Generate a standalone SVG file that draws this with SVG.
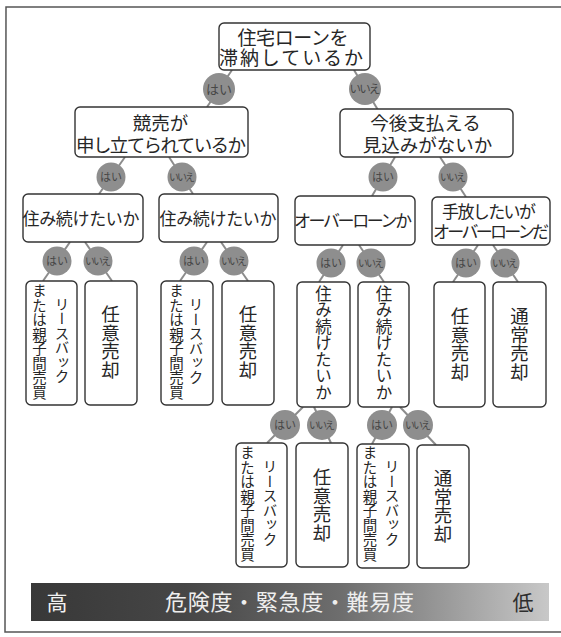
<svg xmlns="http://www.w3.org/2000/svg" width="561" height="637" viewBox="0 0 561 637">
<defs>
<linearGradient id="barg" x1="0" y1="0" x2="1" y2="0">
<stop offset="0" stop-color="#383838"/>
<stop offset="0.3" stop-color="#464646"/>
<stop offset="0.6" stop-color="#6e6e6e"/>
<stop offset="0.8" stop-color="#9a9a9a"/>
<stop offset="1" stop-color="#c8c8c8"/>
</linearGradient>
<style>
.box{fill:#fff;stroke:#333;stroke-width:1.4}
.t{font-family:"Noto Sans CJK JP","Noto Sans CJK SC",sans-serif;fill:#262626;text-anchor:middle}
.v{font-family:"Noto Sans CJK JP","Noto Sans CJK SC",sans-serif;fill:#262626;text-anchor:middle;writing-mode:vertical-rl}
.c{fill:#8e8e8e}
.cl{font-family:"Noto Sans CJK JP","Noto Sans CJK SC",sans-serif;fill:#474747;text-anchor:middle}
.ln{stroke:#8c8c8c;stroke-width:2;fill:none}
</style>
</defs>
<rect width="561" height="637" fill="#fff"/>
<path d="M562 7 L6 7 L5 632 L562 632" fill="none" stroke="#555" stroke-width="1.5"/>

<g id="connectors">
<line class="ln" x1="232" y1="70" x2="207" y2="107"/>
<line class="ln" x1="354" y1="70" x2="378" y2="110"/>
<line class="ln" x1="125" y1="157" x2="99" y2="194"/>
<line class="ln" x1="169" y1="157" x2="193" y2="194"/>
<line class="ln" x1="395" y1="157" x2="372" y2="196"/>
<line class="ln" x1="440" y1="157" x2="466" y2="197"/>
<line class="ln" x1="70" y1="242" x2="43" y2="281"/>
<line class="ln" x1="85" y1="242" x2="112" y2="281"/>
<line class="ln" x1="207" y1="242" x2="180" y2="281"/>
<line class="ln" x1="221" y1="242" x2="248" y2="281"/>
<line class="ln" x1="343" y1="245" x2="319" y2="282"/>
<line class="ln" x1="359" y1="245" x2="384" y2="282"/>
<line class="ln" x1="478" y1="245" x2="453" y2="282"/>
<line class="ln" x1="493" y1="245" x2="518" y2="282"/>
<line class="ln" x1="303" y1="407" x2="267" y2="443"/>
<line class="ln" x1="314" y1="407" x2="331" y2="443"/>
<line class="ln" x1="392" y1="407" x2="372" y2="444"/>
<line class="ln" x1="400" y1="407" x2="436" y2="445"/>
<circle class="c" cx="219" cy="89" r="16"/><text class="cl" x="219" y="93.5" font-size="13">はい</text>
<circle class="c" cx="365" cy="89" r="16"/><text class="cl" x="365" y="93" font-size="11.5" textLength="31">いいえ</text>
<circle class="c" cx="111" cy="177" r="14.5"/><text class="cl" x="111" y="181" font-size="11">はい</text>
<circle class="c" cx="182" cy="177" r="14.5"/><text class="cl" x="182" y="181" font-size="10" textLength="26">いいえ</text>
<circle class="c" cx="383" cy="177" r="14.5"/><text class="cl" x="383" y="181" font-size="11">はい</text>
<circle class="c" cx="453" cy="177" r="14.5"/><text class="cl" x="453" y="181" font-size="10" textLength="26">いいえ</text>
<circle class="c" cx="57" cy="261" r="14.5"/><text class="cl" x="57" y="265" font-size="11">はい</text>
<circle class="c" cx="98" cy="261" r="14.5"/><text class="cl" x="98" y="265" font-size="10" textLength="26">いいえ</text>
<circle class="c" cx="194" cy="261" r="14.5"/><text class="cl" x="194" y="265" font-size="11">はい</text>
<circle class="c" cx="234" cy="261" r="14.5"/><text class="cl" x="234" y="265" font-size="10" textLength="26">いいえ</text>
<circle class="c" cx="331" cy="263" r="14.5"/><text class="cl" x="331" y="267" font-size="11">はい</text>
<circle class="c" cx="371" cy="263" r="14.5"/><text class="cl" x="371" y="267" font-size="10" textLength="26">いいえ</text>
<circle class="c" cx="466" cy="263" r="14.5"/><text class="cl" x="466" y="267" font-size="11">はい</text>
<circle class="c" cx="505" cy="263" r="14.5"/><text class="cl" x="505" y="267" font-size="10" textLength="26">いいえ</text>
<circle class="c" cx="285" cy="425" r="15"/><text class="cl" x="285" y="429" font-size="11">はい</text>
<circle class="c" cx="322" cy="425" r="15"/><text class="cl" x="322" y="429" font-size="10" textLength="26">いいえ</text>
<circle class="c" cx="382" cy="425" r="15"/><text class="cl" x="382" y="429" font-size="11">はい</text>
<circle class="c" cx="418" cy="425" r="15"/><text class="cl" x="418" y="429" font-size="10" textLength="26">いいえ</text>
</g>

<g id="root"><rect class="box" x="219" y="23" width="151" height="47" rx="5"/>
<text class="t" x="293" y="44.5" font-size="19" textLength="111">住宅ローンを</text>
<text class="t" x="291" y="65" font-size="19" textLength="144">滞納しているか</text></g>

<g id="keibai"><rect class="box" x="75" y="107" width="173" height="50" rx="5"/>
<text class="t" x="160.5" y="130" font-size="18.5">競売が</text>
<text class="t" x="161" y="151.5" font-size="18.5" textLength="170">申し立てられているか</text></g>

<g id="kongo"><rect class="box" x="340" y="109" width="173" height="48" rx="5"/>
<text class="t" x="425.5" y="130" font-size="18.5">今後支払える</text>
<text class="t" x="427.5" y="151.5" font-size="18.5">見込みがないか</text></g>

<g id="sumi1"><rect class="box" x="23" y="194" width="120" height="48" rx="5"/>
<text class="t" x="81" y="225" font-size="17" textLength="117">住み続けたいか</text></g>

<g id="sumi2"><rect class="box" x="159" y="194" width="119" height="48" rx="5"/>
<text class="t" x="218" y="225" font-size="17" textLength="117">住み続けたいか</text></g>

<g id="overloan"><rect class="box" x="295" y="196" width="120" height="49" rx="5"/>
<text class="t" x="353" y="226.5" font-size="17" textLength="118">オーバーローンか</text></g>

<g id="tebanashi"><rect class="box" x="432" y="197" width="118" height="48" rx="5"/>
<text class="t" x="489" y="217.5" font-size="17" textLength="94">手放したいが</text>
<text class="t" x="491" y="238" font-size="17" textLength="116">オーバーローンだ</text></g>

<g id="leaf1"><rect class="box" x="26" y="281" width="51" height="124" rx="5"/>
<text class="v" x="62" y="340.5" font-size="14.5">リースバック</text>
<text class="v" x="39.5" y="341.5" font-size="14.5">または親子間売買</text></g>

<g id="leaf2"><rect class="box" x="85" y="281" width="52" height="124" rx="5"/>
<text class="v" x="110.5" y="342" font-size="18.5">任意売却</text></g>

<g id="leaf3"><rect class="box" x="161" y="281" width="52" height="124" rx="5"/>
<text class="v" x="196" y="341" font-size="14.5">リースバック</text>
<text class="v" x="176.5" y="341.5" font-size="14.5">または親子間売買</text></g>

<g id="leaf4"><rect class="box" x="222" y="281" width="52" height="124" rx="5"/>
<text class="v" x="248" y="342" font-size="18.5">任意売却</text></g>

<g id="leaf5"><rect class="box" x="297" y="282" width="53" height="125" rx="5"/>
<text class="v" x="323.5" y="343" font-size="16.5">住み続けたいか</text></g>

<g id="leaf6"><rect class="box" x="358" y="282" width="51" height="125" rx="5"/>
<text class="v" x="384" y="343" font-size="16.5">住み続けたいか</text></g>

<g id="leaf7"><rect class="box" x="434" y="282" width="51" height="125" rx="5"/>
<text class="v" x="460" y="344" font-size="18.5">任意売却</text></g>

<g id="leaf8"><rect class="box" x="493" y="282" width="53" height="125" rx="5"/>
<text class="v" x="519.5" y="344" font-size="18.5">通常売却</text></g>

<g id="leaf9"><rect class="box" x="236" y="443" width="51" height="124" rx="5"/>
<text class="v" x="270" y="503" font-size="14.5">リースバック</text>
<text class="v" x="247.5" y="503.5" font-size="14.5">または親子間売買</text></g>

<g id="leaf10"><rect class="box" x="296" y="443" width="52" height="124" rx="5"/>
<text class="v" x="322" y="505" font-size="18.5">任意売却</text></g>

<g id="leaf11"><rect class="box" x="357" y="444" width="52" height="124" rx="5"/>
<text class="v" x="392" y="503" font-size="14.5">リースバック</text>
<text class="v" x="370" y="503.5" font-size="14.5">または親子間売買</text></g>

<g id="leaf12"><rect class="box" x="417" y="445" width="52" height="123" rx="5"/>
<text class="v" x="443" y="506" font-size="18.5">通常売却</text></g>

<g id="bar"><rect x="31" y="583" width="518" height="38" fill="url(#barg)"/>
<text class="t" x="57" y="609.5" font-size="21" style="fill:#f2f2f2">高</text>
<text class="t" x="289.5" y="610" font-size="22" textLength="249" style="fill:#eeeeee">危険度・緊急度・難易度</text>
<text class="t" x="523" y="609.5" font-size="21" style="fill:#2e2e2e">低</text></g>
</svg>
